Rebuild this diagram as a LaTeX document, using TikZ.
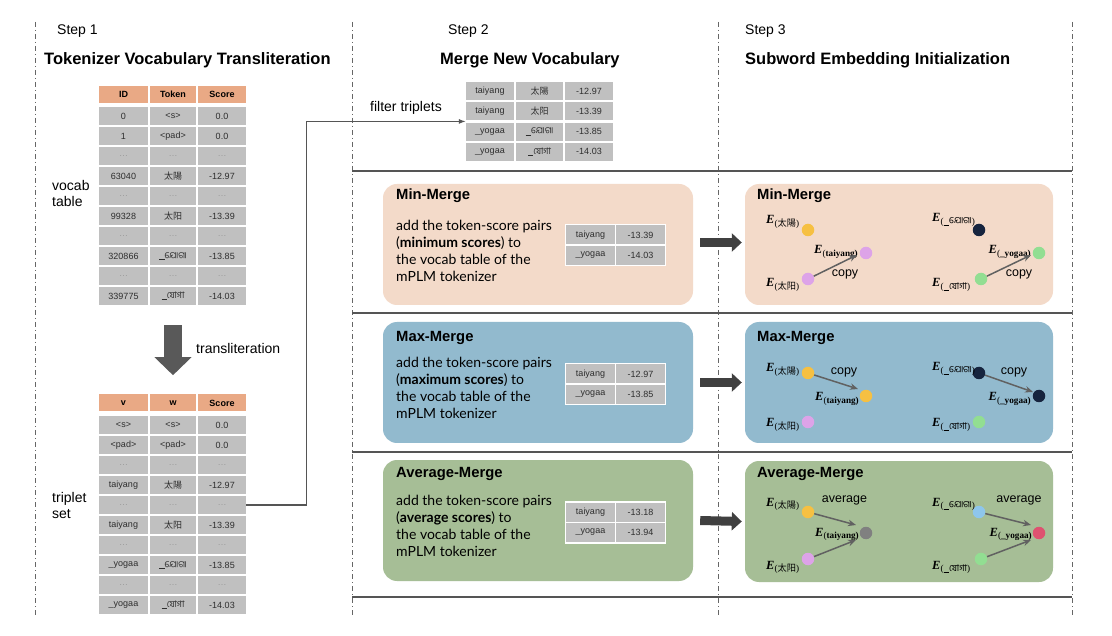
\documentclass[tikz,border=0pt]{standalone}
\usepackage{fontspec}
\setmainfont{Liberation Sans}
\newfontfamily\cjkf{Noto Sans CJK SC}
\newfontfamily\odiaf[Script=Oriya]{Noto Sans Oriya UI}
\newfontfamily\bengf[Script=Bengali]{Hind Siliguri}
\newfontfamily\seriff{Liberation Serif}
\newfontfamily\bodyf{Lato}
\usetikzlibrary{arrows.meta,calc}

\definecolor{hdr}{RGB}{233,169,133}
\definecolor{cellg}{RGB}{192,192,192}
\definecolor{peach}{RGB}{243,218,201}
\definecolor{bluebx}{RGB}{146,186,206}
\definecolor{greenbx}{RGB}{166,190,150}
\definecolor{sepc}{RGB}{85,85,85}
\definecolor{bigarr}{RGB}{89,89,89}
\definecolor{blkarr}{RGB}{64,64,64}
\definecolor{dOr}{RGB}{246,192,66}
\definecolor{dPu}{RGB}{221,163,232}
\definecolor{dNv}{RGB}{22,36,62}
\definecolor{dGr}{RGB}{146,222,146}
\definecolor{dBl}{RGB}{142,198,236}
\definecolor{dGy}{RGB}{128,128,128}
\definecolor{dRd}{RGB}{222,82,112}

\newcommand\zhc[1]{{\cjkf #1}}
\newcommand\ulb{\rule[-0.6pt]{0.6em}{0.7pt}}
\newcommand\odtok{{\ulb\odiaf ଯୋଗା}}
\newcommand\bntok{{\ulb\bengf যোগা}}
\newcommand\ellip{\textcolor{black!40}{…}}
\newcommand\Emb[1]{{\seriff\bfseries\itshape E}\raisebox{-2.8pt}{\seriff\fontsize{9.2}{9.2}\selectfont(#1)}}

\tikzset{
  cell/.style={fill=cellg, inner sep=0pt, minimum height=18pt, text=black!82,
    font=\fontsize{9}{9}\selectfont},
  hcell/.style={cell, fill=hdr, minimum height=17pt, text=black,
    font=\bfseries\fontsize{9}{9}\selectfont},
  scell/.style={cell, draw=white, line width=1.5pt, minimum height=20.5pt, minimum width=50pt},
  mbox/.style={inner sep=0pt, rounded corners=14pt, minimum width=310pt, minimum height=121pt},
  sbox/.style={mbox, minimum width=308pt},
  boxhead/.style={inner sep=0pt, anchor=base west, font=\bfseries\fontsize{14.8}{16}\selectfont},
  boxbody/.style={inner sep=0pt, anchor=north west, align=left,
    font=\bodyf\fontsize{14}{17}\selectfont},
  stepl/.style={inner sep=0pt, anchor=base west, font=\fontsize{14}{16}\selectfont},
  titl/.style={inner sep=0pt, anchor=base west, font=\bfseries\fontsize{16.5}{18}\selectfont},
  lbl/.style={inner sep=0pt, anchor=west, align=left, font=\fontsize{14}{16}\selectfont},
  edot/.style={circle, inner sep=0pt, minimum size=12.5pt},
  elab/.style={inner sep=0pt, font=\fontsize{12.5}{12.5}\selectfont},
  small/.style={inner sep=0pt, font=\fontsize{12.5}{12.5}\selectfont},
  conn/.style={draw=sepc, line width=1.2pt, -{Latex[length=7pt,width=5pt]}},
  earr/.style={draw=black!62, line width=1.5pt, -{Stealth[length=8pt,width=6.5pt]}},
  blockarr/.style={draw=blkarr, line width=9pt, -{Triangle[length=10pt,width=18pt]}},
  bigarrow/.style={draw=bigarr, line width=18pt, -{Triangle[length=18pt,width=36pt]}},
  vsep/.style={draw=black!60, line width=1pt, dash pattern=on 5pt off 3pt on 1pt off 3pt},
  hsep/.style={draw=sepc, line width=1.8pt},
}

\newcommand\rowA[6][cell]{%
  \node[#1, minimum width=49pt] (#2a) at (123.5,#3) {#4};
  \node[#1, minimum width=46pt] (#2b) at (173,#3) {#5};
  \node[#1, minimum width=48pt] (#2c) at (222,#3) {#6};}
\newcommand\rowF[5]{%
  \node[cell, minimum width=48pt] (#1a) at (490,#2) {#3};
  \node[cell, minimum width=47pt] (#1b) at (539.5,#2) {#4};
  \node[cell, minimum width=48pt] (#1c) at (589,#2) {#5};}
\newcommand\rowS[4]{%
  \node[scell] (#1a) at (590.5,#2) {#3};
  \node[scell] (#1b) at (640.5,#2) {#4};}

\begin{document}
\begin{tikzpicture}[x=1pt,y=-1pt]
\useasboundingbox[fill=white] (0,0) rectangle (1112,636);

% separators
\foreach \x in {35,352,718,1072} \draw[vsep] (\x,22) -- (\x,615);
\foreach \y in {171,313,452,597} \draw[hsep] (352,\y) -- (1072,\y);

% titles
\node[stepl] (s1) at (57,35) {Step 1};
\node[titl] (t1) at (44,65) {Tokenizer Vocabulary Transliteration};
\node[stepl] (s2) at (448,35) {Step 2};
\node[titl] (t2) at (440,65) {Merge New Vocabulary};
\node[stepl] (s3) at (745,35) {Step 3};
\node[titl] (t3) at (745,65) {Subword Embedding Initialization};

% step 1 vocab table
\rowA[hcell]{ta0}{94.5}{ID}{Token}{Score}
\rowA{ta1}{116}{0}{<s>}{0.0}
\rowA{ta2}{136}{1}{<pad>}{0.0}
\rowA{ta3}{156}{\ellip}{\ellip}{\ellip}
\rowA{ta4}{176}{63040}{\zhc{太陽}}{-12.97}
\rowA{ta5}{196}{\ellip}{\ellip}{\ellip}
\rowA{ta6}{216}{99328}{\zhc{太阳}}{-13.39}
\rowA{ta7}{236}{\ellip}{\ellip}{\ellip}
\rowA{ta8}{256}{320866}{\odtok}{-13.85}
\rowA{ta9}{276}{\ellip}{\ellip}{\ellip}
\rowA{ta10}{296}{339775}{\bntok}{-14.03}
\node[lbl] (vt) at (52,193) {vocab\\table};

% transliteration arrow
\draw[bigarrow] ($(ta10b.south)+(0,20)$) -- ($(ta10b.south)+(0,70)$) coordinate (bigtip);
\node[lbl] (trl) at (196,348) {transliteration};

% triplet table
\rowA[hcell]{tb0}{403}{v}{w}{Score}
\rowA{tb1}{425}{<s>}{<s>}{0.0}
\rowA{tb2}{445}{<pad>}{<pad>}{0.0}
\rowA{tb3}{465}{\ellip}{\ellip}{\ellip}
\rowA{tb4}{485}{taiyang}{\zhc{太陽}}{-12.97}
\rowA{tb5}{505}{\ellip}{\ellip}{\ellip}
\rowA{tb6}{525}{taiyang}{\zhc{太阳}}{-13.39}
\rowA{tb7}{545}{\ellip}{\ellip}{\ellip}
\rowA{tb8}{565}{\_yogaa}{\odtok}{-13.85}
\rowA{tb9}{585}{\ellip}{\ellip}{\ellip}
\rowA{tb10}{605}{\_yogaa}{\bntok}{-14.03}
\node[lbl] (ts) at (52,505) {triplet\\set};

% filtered table
\rowF{fr1}{91}{taiyang}{\zhc{太陽}}{-12.97}
\rowF{fr2}{111.3}{taiyang}{\zhc{太阳}}{-13.39}
\rowF{fr3}{131.6}{\_yogaa}{\odtok}{-13.85}
\rowF{fr4}{151.9}{\_yogaa}{\bntok}{-14.03}
\coordinate (fin) at ($(fr2a.south west)!0.5!(fr3a.north west)$);
\draw[conn] (tb5c.east) -- ++(60,0) |- (fin);
\node[lbl] (flt) at (370,108) {filter triplets};

% step 2 boxes
\node[mbox, fill=peach] (b2min) at (538,244.5) {};
\node[mbox, fill=bluebx] (b2max) at (538,382.5) {};
\node[mbox, fill=greenbx] (b2avg) at (538,520.5) {};
\node[boxhead] (h2min) at (396,200) {Min-Merge};
\node[boxhead] (h2max) at (396,342) {Max-Merge};
\node[boxhead] (h2avg) at (396,477) {Average-Merge};
\node[boxbody] (x2min) at (396,219.5) {add the token-score pairs\\(\textbf{minimum scores}) to\\the vocab table of the\\mPLM tokenizer};
\node[boxbody] (x2max) at (396,356.5) {add the token-score pairs\\(\textbf{maximum scores}) to\\the vocab table of the\\mPLM tokenizer};
\node[boxbody] (x2avg) at (396,494.5) {add the token-score pairs\\(\textbf{average scores}) to\\the vocab table of the\\mPLM tokenizer};
\rowS{sm1}{235}{taiyang}{-13.39}
\rowS{sm2}{255.5}{\_yogaa}{-14.03}
\rowS{sx1}{374}{taiyang}{-12.97}
\rowS{sx2}{394.5}{\_yogaa}{-13.85}
\rowS{sa1}{512}{taiyang}{-13.18}
\rowS{sa2}{532.5}{\_yogaa}{-13.94}

% step 3 boxes
\node[sbox, fill=peach] (b3min) at (899,244.5) {};
\node[sbox, fill=bluebx] (b3max) at (899,382.5) {};
\node[sbox, fill=greenbx] (b3avg) at (899,521.5) {};
\node[boxhead] (h3min) at (757,200) {Min-Merge};
\node[boxhead] (h3max) at (757,342) {Max-Merge};
\node[boxhead] (h3avg) at (757,477) {Average-Merge};

% block arrows
\draw[blockarr] ($(b2min.east)+(7,-2)$) -- ($(b3min.west)+(-3,-2)$);
\draw[blockarr] ($(b2max.east)+(7,0)$) -- ($(b3max.west)+(-3,0)$);
\draw[blockarr] ($(b2avg.east)+(7,0)$) -- ($(b3avg.west)+(-3,0)$);

% ---- Min-Merge embeddings
\node[edot, fill=dOr] (mA) at (808,230) {};
\node[edot, fill=dPu] (mT) at (866,253) {};
\node[edot, fill=dPu] (mB) at (808,279) {};
\node[elab, anchor=base west] (lmA) at (766,224) {\Emb{\zhc{太陽}}};
\node[elab, anchor=base east] (lmT) at (858,254) {\Emb{\bfseries taiyang}};
\node[elab, anchor=base west] (lmB) at (766,287) {\Emb{\zhc{太阳}}};
\coordinate (mTip) at (857,255);
\draw[earr] (mB) -- (mTip);
\node[small] (mc1) at (845,274) {copy};
\node[edot, fill=dNv] (mC) at (979,230) {};
\node[edot, fill=dGr] (mY) at (1039,253) {};
\node[edot, fill=dGr] (mD) at (981,279) {};
\node[elab, anchor=base west] (lmC) at (932,222) {\Emb{\odtok}};
\node[elab, anchor=base east] (lmY) at (1031,254) {\Emb{\bfseries\_yogaa}};
\node[elab, anchor=base west] (lmD) at (932,287) {\Emb{\bntok}};
\coordinate (mTip2) at (1031,255);
\draw[earr] (mD) -- (mTip2);
\node[small] (mc2) at (1019,274) {copy};

% ---- Max-Merge embeddings
\node[edot, fill=dOr] (xA) at (808,373) {};
\node[edot, fill=dOr] (xT) at (866,396) {};
\node[edot, fill=dPu] (xB) at (808,422) {};
\node[elab, anchor=base west] (lxA) at (766,372) {\Emb{\zhc{太陽}}};
\node[elab, anchor=base east] (lxT) at (859,401) {\Emb{\bfseries taiyang}};
\node[elab, anchor=base west] (lxB) at (766,427) {\Emb{\zhc{太阳}}};
\coordinate (xTip) at (858,389);
\draw[earr] (xA) -- (xTip);
\node[small] (xc1) at (844,372) {copy};
\node[edot, fill=dNv] (xC) at (979,373) {};
\node[edot, fill=dNv] (xY) at (1039,396) {};
\node[edot, fill=dGr] (xD) at (979,422) {};
\node[elab, anchor=base west] (lxC) at (932,371) {\Emb{\odtok}};
\node[elab, anchor=base east] (lxY) at (1031,401) {\Emb{\bfseries\_yogaa}};
\node[elab, anchor=base west] (lxD) at (932,427) {\Emb{\bntok}};
\coordinate (xTip2) at (1033,392);
\draw[earr] (xC) -- (xTip2);
\node[small] (xc2) at (1014,372) {copy};

% ---- Average-Merge embeddings
\node[edot, fill=dOr] (aA) at (808,512) {};
\node[edot, fill=dGy] (aT) at (866,533) {};
\node[edot, fill=dPu] (aB) at (808,559) {};
\node[elab, anchor=base west] (laA) at (766,506) {\Emb{\zhc{太陽}}};
\node[elab, anchor=base east] (laT) at (859,536) {\Emb{\bfseries taiyang}};
\node[elab, anchor=base west] (laB) at (766,569) {\Emb{\zhc{太阳}}};
\coordinate (aTip1) at (856,525);
\coordinate (aTip2) at (856,540);
\draw[earr] (aA) -- (aTip1);
\draw[earr] (aB) -- (aTip2);
\node[small] (ac1) at (844.5,500) {average};
\node[edot, fill=dBl] (aC) at (979,512) {};
\node[edot, fill=dRd] (aY) at (1039,533) {};
\node[edot, fill=dGr] (aD) at (981,559) {};
\node[elab, anchor=base west] (laC) at (932,506) {\Emb{\odtok}};
\node[elab, anchor=base east] (laY) at (1032,536) {\Emb{\bfseries\_yogaa}};
\node[elab, anchor=base west] (laD) at (932,569) {\Emb{\bntok}};
\coordinate (aTip3) at (1031,525);
\coordinate (aTip4) at (1031,540);
\draw[earr] (aC) -- (aTip3);
\draw[earr] (aD) -- (aTip4);
\node[small] (ac2) at (1019,500) {average};
\end{tikzpicture}
\end{document}
